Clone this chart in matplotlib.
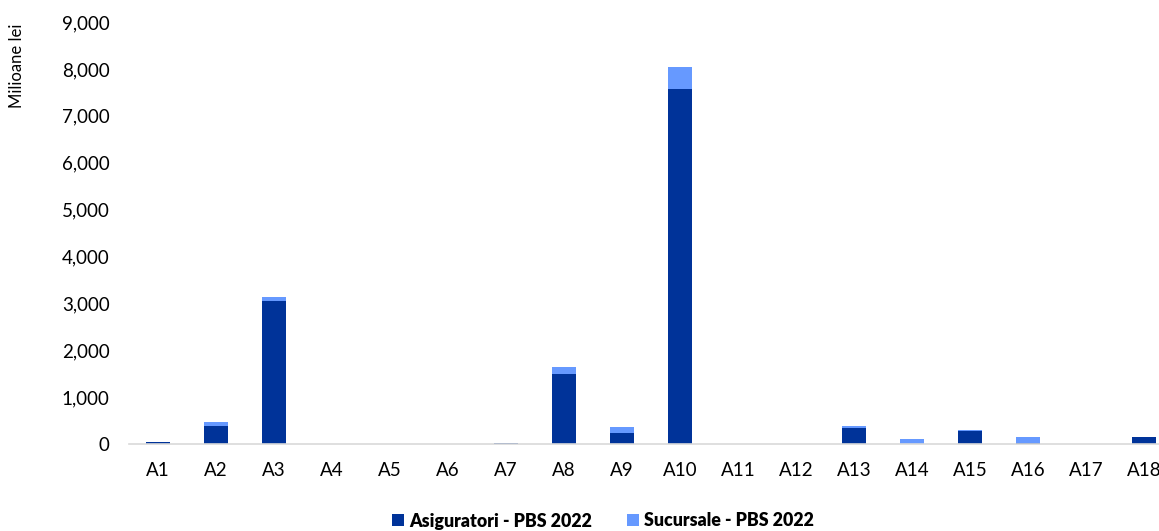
import matplotlib
matplotlib.use("Agg")
import matplotlib.pyplot as plt
from matplotlib.ticker import FuncFormatter
import numpy as np

categories = ["A1", "A2", "A3", "A4", "A5", "A6", "A7", "A8", "A9", "A10",
              "A11", "A12", "A13", "A14", "A15", "A16", "A17", "A18"]
asiguratori = [40, 380, 3050, 0, 2, 2, 15, 1490, 230, 7570,
               0, 0, 350, 5, 285, 25, 0, 155]
sucursale = [10, 90, 90, 0, 5, 5, 15, 150, 130, 470,
             0, 2, 35, 100, 5, 125, 0, 0]
series_names = ["Asiguratori - PBS 2022", "Sucursale - PBS 2022"]
colors = ["#003399", "#6699FF"]

plt.rcParams['font.family'] = ['Lato', 'DejaVu Sans']

fig = plt.figure(figsize=(11.59, 5.31), dpi=100)
ax = fig.add_axes([129/1159, 87/531, (1173-129)/1159, (444-22)/531])

x = np.arange(len(categories))
w = 0.4
b1 = ax.bar(x, asiguratori, width=w, color=colors[0], label=series_names[0])
b2 = ax.bar(x, sucursale, width=w, bottom=asiguratori, color=colors[1], label=series_names[1])

ax.set_xlim(-0.5, len(categories) - 0.5)
ax.set_ylim(0, 9000)
ax.set_yticks(np.arange(0, 9001, 1000))
ax.yaxis.set_major_formatter(FuncFormatter(lambda v, p: f"{int(v):,}"))
ax.set_xticks(x)
ax.set_xticklabels(categories)
ax.tick_params(axis='both', length=0, labelsize=13.5, colors='#000000')
ax.tick_params(axis='y', pad=14)
ax.tick_params(axis='x', pad=13)
for s in ["top", "right", "left"]:
    ax.spines[s].set_visible(False)
ax.spines["bottom"].set_color("#D9D9D9")
ax.spines["bottom"].set_linewidth(1.2)

fig.text(17/1159, 1 - 66/531, "Milioane lei", rotation=90, ha='center', va='center', fontsize=12)

leg = fig.legend(handles=[b1, b2], labels=series_names, loc='center',
                 bbox_to_anchor=(603/1159, 1 - 521/531), ncol=2, frameon=False,
                 prop={'weight': 'heavy', 'size': 12.8}, handlelength=0.65, handleheight=0.65,
                 handletextpad=0.3, columnspacing=2.0)

fig.savefig("out.png", dpi=100)
